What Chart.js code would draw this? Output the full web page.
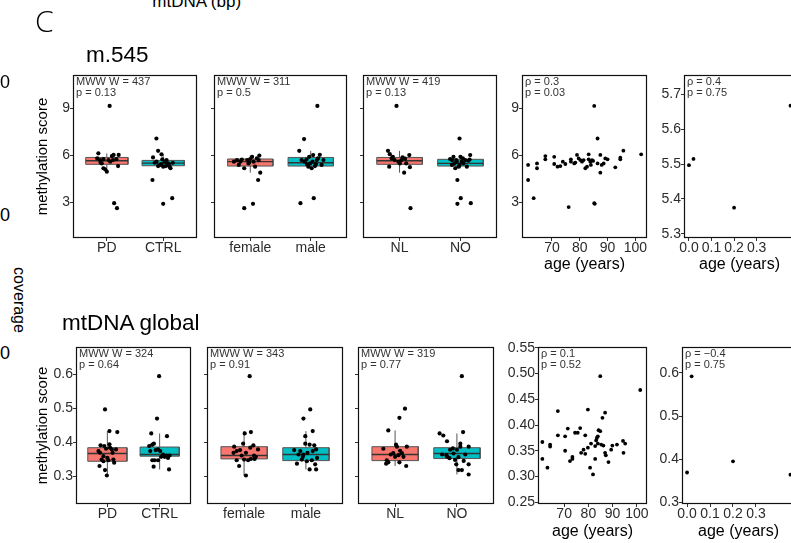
<!DOCTYPE html>
<html>
<head>
<meta charset="utf-8">
<script src="https://cdn.jsdelivr.net/npm/chart.js@4.4.1/dist/chart.umd.min.js"></script>
<style>
  html, body { margin: 0; padding: 0; background: #fff; }
  #fig { position: relative; width: 791px; height: 543px; overflow: hidden; font-family: 'Liberation Sans', Arial, sans-serif; }
  #fig canvas { position: absolute; }
  .t { position: absolute; white-space: nowrap; line-height: 1; color: #000; }
  .note { position: absolute; font-size: 11px; line-height: 10.7px; color: #333; white-space: nowrap; }
</style>
</head>
<body>
<div id="fig"></div>
<script>
// group names
const groupsDx = ['PD', 'CTRL'];
const groupsSex = ['female', 'male'];
const groupsNL = ['NL', 'NO'];

// tick values
const m545Ticks = [3, 6, 9];
const globalTicks = [0.3, 0.4, 0.5, 0.6];
const ageTicks = [70, 80, 90, 100];
const infantTicks = [0, 0.1, 0.2, 0.3];
const m545InfantTicks = [5.3, 5.4, 5.5, 5.6, 5.7];
const globalAgeTicks = [0.25, 0.3, 0.35, 0.4, 0.45, 0.5, 0.55];

// m.545 : scores per group (+ horizontal jitter), box stats [lo, q1, median, q3, hi]
const m545PD = [9.17, 6.14, 5.82, 5.71, 5.50, 5.19, 4.97, 5.12, 5.71, 5.97, 6.04, 5.77, 6.04, 5.33, 2.96, 2.64, 5.77, 5.61, 5.55, 5.71];
const m545PDJit = [0.05, -0.15, -0.17, -0.12, -0.09, -0.06, 0, -0.03, 0.03, 0.09, 0.12, 0.17, 0.21, 0.2, 0.13, 0.18, -0.06, 0.06, -0.11, 0.11];
const m545PDBox = [4.97, 5.44, 5.67, 5.88, 6.14];
const m545CTRL = [7.09, 6.30, 6.08, 5.88, 4.44, 2.92, 3.28, 5.54, 5.39, 5.61, 5.71, 5.50, 5.29, 5.19, 5.29, 5.33, 5.46, 5.33, 5.54, 5.61, 5.76, 5.39, 5.45];
const m545CTRLJit = [-0.12, -0.09, -0.03, -0.18, -0.19, 0, 0.16, -0.15, -0.06, 0.03, 0.06, 0.085, 0.115, 0.13, 0, -0.09, -0.03, 0.045, 0.17, -0.12, -0.015, 0.07, 0.1];
const m545CTRLBox = [5.19, 5.35, 5.52, 5.69, 6.08];
const m545Female = [2.64, 2.92, 4.44, 4.91, 5.71, 5.61, 5.19, 5.50, 5.92, 5.82, 5.71, 5.29, 5.75, 5.71, 5.61, 5.78, 5.61, 6.00, 5.40, 5.55];
const m545FemaleJit = [-0.1, 0.045, 0.13, 0.165, -0.22, -0.165, -0.1, -0.03, 0.03, 0.11, 0.14, 0.08, -0.14, -0.05, -0.27, 0, 0.055, 0.15, -0.19, -0.02];
const m545FemaleBox = [4.91, 5.33, 5.61, 5.78, 6.00];
const m545Male = [9.17, 7.05, 6.30, 2.96, 3.28, 5.75, 6.03, 6.05, 5.50, 5.71, 5.29, 5.19, 5.33, 5.82, 5.61, 5.71, 5.71, 5.40, 5.92, 5.61, 5.45, 5.43];
const m545MaleJit = [0.11, -0.11, -0.19, -0.17, 0.05, -0.07, 0.04, 0.15, -0.01, 0.1, -0.04, 0.015, 0.07, 0.12, -0.1, -0.15, 0.21, 0.18, -0.025, 0.03, 0.085, -0.06];
const m545MaleBox = [5.19, 5.33, 5.54, 5.88, 6.30];
const m545NL = [9.17, 2.64, 4.91, 6.30, 6.09, 5.82, 5.29, 5.71, 5.61, 5.71, 5.80, 6.03, 5.26, 5.50, 5.92, 5.88, 5.50];
const m545NLJit = [-0.05, 0.18, 0.075, -0.19, -0.16, -0.13, -0.17, -0.08, -0.02, 0.03, 0.09, 0.16, 0.17, 0.11, -0.11, 0.05, 0.005];
const m545NLBox = [4.91, 5.44, 5.67, 5.88, 6.30];
const m545NO = [7.09, 4.44, 3.28, 2.92, 2.96, 5.78, 5.92, 5.71, 5.40, 5.19, 5.29, 5.50, 5.71, 5.67, 6.03, 5.29, 5.61, 5.92, 5.50, 5.61, 5.82, 5.75, 5.71, 5.40];
const m545NOJit = [-0.015, -0.05, 0.005, -0.05, 0.17, -0.17, -0.115, -0.07, -0.14, -0.085, -0.03, 0.05, 0.08, 0.13, 0.16, 0.105, 0.02, 0, -0.1, -0.06, 0.04, 0.15, -0.14, -0.015];
const m545NOBox = [5.19, 5.33, 5.50, 5.76, 6.03];

// m.545 vs age
const m545Age = [61.4, 61.4, 63.4, 64.6, 64.6, 67.6, 67.6, 70.8, 70.8, 72.0, 73.0, 73.9, 74.8, 76.0, 76.8, 76.8, 78.0, 79.0, 79.6, 80.2, 80.8, 81.4, 82.0, 82.6, 83.2, 83.2, 83.8, 84.4, 85.2, 85.2, 85.4, 86.4, 86.4, 87.4, 87.4, 87.9, 88.6, 89.2, 90.0, 92.8, 94.6, 94.6, 95.7, 102.1, 78.4, 84.0, 84.8];
const m545AgeScore = [5.40, 4.44, 3.28, 5.50, 5.19, 5.97, 5.76, 5.92, 5.46, 5.29, 5.33, 5.61, 5.46, 2.71, 5.76, 5.61, 5.50, 6.04, 5.82, 5.71, 5.61, 5.71, 5.19, 5.29, 6.08, 5.76, 5.61, 5.71, 9.17, 2.96, 2.92, 7.09, 5.50, 4.91, 6.04, 5.40, 5.50, 5.82, 5.76, 5.25, 5.86, 5.76, 6.31, 6.08, 5.55, 5.40, 5.66];

// infants
const infantAge = [0, 0.02, 0.2, 0.45];
const m545Infant = [5.497, 5.515, 5.375, 5.668];
const globalInfant = [0.369, 0.592, 0.395, 0.364];

// mtDNA global
const globalPD = [0.497, 0.433, 0.430, 0.302, 0.330, 0.318, 0.349, 0.359, 0.391, 0.394, 0.379, 0.379, 0.340, 0.347, 0.374, 0.384, 0.381, 0.349, 0.344, 0.354, 0.369, 0.369, 0.389];
const globalPDJit = [-0.045, 0.04, 0.19, -0.01, -0.15, -0.045, -0.11, -0.075, -0.13, 0.04, 0.085, 0.165, 0.13, 0.02, -0.17, 0.05, -0.025, 0.115, -0.075, 0, -0.14, 0.1, -0.06];
const globalPDBox = [0.302, 0.344, 0.367, 0.384, 0.433];
const globalCTRL = [0.595, 0.470, 0.426, 0.418, 0.396, 0.393, 0.389, 0.379, 0.374, 0.364, 0.361, 0.361, 0.357, 0.347, 0.347, 0.347, 0.328, 0.320, 0.374, 0.377, 0.357, 0.354];
const globalCTRLJit = [-0.01, -0.05, -0.16, 0.14, -0.11, -0.14, -0.2, -0.03, 0.01, 0.065, 0.13, 0.19, 0.095, -0.095, -0.14, -0.03, -0.115, 0.18, -0.18, -0.075, 0.03, 0.16];
const globalCTRLBox = [0.320, 0.359, 0.364, 0.386, 0.426];
const globalFemale = [0.595, 0.426, 0.430, 0.396, 0.387, 0.377, 0.391, 0.379, 0.384, 0.374, 0.369, 0.369, 0.361, 0.357, 0.351, 0.349, 0.347, 0.347, 0.330, 0.302, 0.351, 0.361];
const globalFemaleJit = [0.09, 0.01, 0.11, -0.015, -0.16, -0.065, 0.15, 0.225, 0.1, -0.12, -0.17, 0.03, 0.16, 0.19, 0.11, 0, -0.12, 0.065, -0.08, 0.03, 0.17, -0.04];
const globalFemaleBox = [0.302, 0.351, 0.361, 0.387, 0.433];
const globalMale = [0.497, 0.470, 0.433, 0.418, 0.396, 0.393, 0.379, 0.377, 0.374, 0.364, 0.369, 0.374, 0.364, 0.357, 0.354, 0.337, 0.344, 0.347, 0.335, 0.320, 0.320, 0.349, 0.391];
const globalMaleJit = [0.07, -0.04, 0.11, -0.01, -0.01, 0.06, 0.165, -0.19, -0.09, -0.04, 0.025, 0.11, -0.12, -0.05, 0.18, -0.145, 0.015, 0.095, 0.15, 0.165, 0.06, -0.065, 0.135];
const globalMaleBox = [0.320, 0.346, 0.364, 0.384, 0.433];
const globalNL = [0.499, 0.472, 0.435, 0.381, 0.393, 0.387, 0.387, 0.375, 0.368, 0.364, 0.347, 0.337, 0.341, 0.362, 0.357, 0.341, 0.330, 0.357, 0.368];
const globalNLJit = [0.16, 0.07, -0.11, -0.19, 0.015, 0.03, 0.19, 0.08, -0.03, -0.07, -0.135, -0.145, -0.11, 0.055, 0.135, 0.07, 0.18, 0, 0.11];
const globalNLBox = [0.330, 0.346, 0.364, 0.387, 0.435];
const globalNO = [0.595, 0.426, 0.420, 0.430, 0.403, 0.396, 0.387, 0.387, 0.382, 0.378, 0.378, 0.364, 0.362, 0.367, 0.364, 0.353, 0.356, 0.345, 0.335, 0.335, 0.318, 0.318, 0.305, 0.358, 0.348];
const globalNOJit = [0.08, -0.28, -0.22, 0.1, -0.16, 0.055, 0.055, 0.19, -0.065, -0.11, 0, -0.24, -0.17, -0.055, 0.135, -0.12, 0.025, 0.11, -0.01, 0.19, 0.025, 0.08, 0.19, -0.16, -0.03];
const globalNOBox = [0.305, 0.352, 0.367, 0.384, 0.426];

// mtDNA global vs age
const globalAge = [61.0, 61.0, 63.1, 64.2, 64.2, 67.4, 67.4, 70.4, 70.4, 71.5, 72.4, 73.4, 73.4, 74.5, 75.6, 76.6, 77.0, 78.0, 78.7, 78.7, 79.8, 79.8, 80.7, 81.1, 81.9, 82.8, 82.8, 83.2, 83.5, 83.9, 84.2, 83.9, 84.9, 84.9, 85.3, 85.8, 86.2, 86.9, 86.9, 87.2, 88.3, 89.4, 89.9, 91.8, 94.3, 94.5, 95.2, 101.4];
const globalAgeScore = [0.367, 0.334, 0.317, 0.362, 0.358, 0.427, 0.380, 0.350, 0.378, 0.393, 0.330, 0.338, 0.334, 0.385, 0.385, 0.394, 0.346, 0.352, 0.380, 0.344, 0.430, 0.356, 0.317, 0.364, 0.304, 0.334, 0.359, 0.370, 0.375, 0.378, 0.390, 0.364, 0.388, 0.495, 0.362, 0.414, 0.360, 0.424, 0.346, 0.341, 0.328, 0.352, 0.360, 0.362, 0.369, 0.346, 0.364, 0.468];

const SALMON = '#F8766D';
const TEAL = '#00BFC4';
const NONE = 'rgba(0,0,0,0)';
const fig = document.getElementById('fig');
Chart.defaults.font.family = "'Liberation Sans', Arial, sans-serif";

// black border round the plotting area
const framePlugin = {
  id: 'frame',
  afterDraw(chart) {
    const { ctx, chartArea: a } = chart;
    ctx.save();
    ctx.strokeStyle = '#111';
    ctx.lineWidth = 1.2;
    ctx.strokeRect(a.left + 0.5, a.top + 0.5, a.right - a.left - 1, a.bottom - a.top - 1);
    ctx.restore();
  }
};

function makeAxis(o) {
  return {
    type: 'linear',
    min: o.min,
    max: o.max,
    offset: false,
    afterBuildTicks: s => { s.ticks = o.ticks.map(v => ({ value: v })); },
    afterFit: s => { if (o.horizontal) s.height = o.size; else s.width = o.size; },
    ticks: {
      display: o.show !== false,
      autoSkip: false, maxRotation: 0, minRotation: 0,
      padding: o.horizontal ? -1.5 : 0,
      color: '#2b2b2b',
      font: { size: 14 },
      callback: (v, i) => o.fmt(v, i)
    },
    grid: { display: true, offset: false, drawOnChartArea: false, drawTicks: true, tickLength: 3, color: '#333', lineWidth: 1 },
    border: { display: false },
    title: o.title
      ? { display: true, text: o.title, color: '#000', font: { size: o.horizontal ? 16 : 15 }, padding: 0 }
      : { display: false }
  };
}

function seg(points, extra) {
  return Object.assign({ type: 'line', data: points, pointRadius: 0, fill: false, borderColor: NONE, borderWidth: 1 }, extra);
}

// whisker, filled box, box outline and median for each group, then the jittered points
function boxDatasets(groups) {
  const W = 0.375;
  const ds = [];
  groups.forEach((g, i) => {
    const c = i + 1;
    const [lo, q1, med, q3, hi] = g.box;
    ds.push(seg([{ x: c, y: lo }, { x: c, y: hi }], { borderColor: '#555', order: 4 }));
    ds.push(seg([{ x: c - W, y: q3 }, { x: c + W, y: q3 }], { fill: '+1', backgroundColor: g.color, order: 3 }));
    ds.push(seg([{ x: c - W, y: q1 }, { x: c + W, y: q1 }], { order: 3 }));
    ds.push(seg([{ x: c - W, y: q1 }, { x: c - W, y: q3 }, { x: c + W, y: q3 }, { x: c + W, y: q1 }, { x: c - W, y: q1 }],
      { borderColor: '#555', order: 2 }));
    ds.push(seg([{ x: c - W, y: med }, { x: c + W, y: med }], { borderColor: '#333', borderWidth: 1.3, order: 1 }));
  });
  ds.push({
    type: 'scatter',
    data: groups.flatMap((g, i) => g.vals.map((v, k) => ({ x: i + 1 + g.jit[k], y: v }))),
    pointRadius: 2.1, pointBackgroundColor: '#000', pointBorderWidth: 0, order: 0
  });
  return ds;
}

function pointDatasets(xs, ys) {
  return [{
    type: 'scatter',
    data: xs.map((x, i) => ({ x: x, y: ys[i] })),
    pointRadius: 1.9, pointBackgroundColor: '#000', pointBorderWidth: 0
  }];
}

function panel(p) {
  const PT = 12, PR = 6;
  const w = p.r - p.l + p.yW + PR;
  const h = p.b - p.t + p.xH + PT;
  const c = document.createElement('canvas');
  c.width = w; c.height = h;
  c.style.left = (p.l - p.yW) + 'px';
  c.style.top = (p.t - PT) + 'px';
  c.style.width = w + 'px';
  c.style.height = h + 'px';
  fig.appendChild(c);
  new Chart(c, {
    type: 'scatter',
    data: { datasets: p.datasets },
    options: {
      responsive: false, animation: false, devicePixelRatio: 1,
      layout: { padding: { top: PT, right: PR, left: 0, bottom: 0 } },
      plugins: { legend: { display: false }, tooltip: { enabled: false } },
      scales: {
        x: makeAxis(Object.assign({}, p.x, { horizontal: true, size: p.xH })),
        y: makeAxis(Object.assign({}, p.y, { size: p.yW }))
      }
    },
    plugins: [framePlugin]
  });
  if (p.note) {
    const d = document.createElement('div');
    d.className = 'note';
    d.style.left = (p.l + 3) + 'px';
    d.style.top = (p.t + 1) + 'px';
    d.innerHTML = p.note.join('<br>');
    fig.appendChild(d);
  }
}

function text(str, left, top, size, extra) {
  const d = document.createElement('div');
  d.className = 't';
  d.textContent = str;
  d.style.left = left + 'px';
  d.style.top = top + 'px';
  d.style.fontSize = size + 'px';
  if (extra) Object.assign(d.style, extra);
  fig.appendChild(d);
}

const fmtInt = v => String(v);
const fmt1 = v => v.toFixed(1);
const fmt2 = v => v.toFixed(2);
const boxX = labels => ({ min: 0.4, max: 2.6, ticks: [1, 2], fmt: (v, i) => labels[i] });
const ageX = { min: 59.2, max: 104.2, ticks: ageTicks, fmt: fmtInt, title: 'age (years)' };
const infantX = { min: -0.022, max: 0.47, ticks: infantTicks, fmt: fmt1, title: 'age (years)' };

// ---- top row: m.545
const yTop = { min: 0.74, max: 11.14, ticks: m545Ticks, fmt: fmtInt };
const T = { t: 75, b: 238 };
panel({ ...T, l: 73, r: 197, yW: 39, xH: 22, x: boxX(groupsDx), y: { ...yTop, title: 'methylation score' },
  datasets: boxDatasets([{ vals: m545PD, jit: m545PDJit, box: m545PDBox, color: SALMON }, { vals: m545CTRL, jit: m545CTRLJit, box: m545CTRLBox, color: TEAL }]),
  note: ['MWW W = 437', 'p = 0.13'] });
panel({ ...T, l: 214, r: 347, yW: 6, xH: 22, x: boxX(groupsSex), y: { ...yTop, show: false },
  datasets: boxDatasets([{ vals: m545Female, jit: m545FemaleJit, box: m545FemaleBox, color: SALMON }, { vals: m545Male, jit: m545MaleJit, box: m545MaleBox, color: TEAL }]),
  note: ['MWW W = 311', 'p = 0.5'] });
panel({ ...T, l: 363, r: 497, yW: 6, xH: 22, x: boxX(groupsNL), y: { ...yTop, show: false },
  datasets: boxDatasets([{ vals: m545NL, jit: m545NLJit, box: m545NLBox, color: SALMON }, { vals: m545NO, jit: m545NOJit, box: m545NOBox, color: TEAL }]),
  note: ['MWW W = 419', 'p = 0.13'] });
panel({ ...T, l: 522, r: 647, yW: 20, xH: 36, x: ageX, y: yTop,
  datasets: pointDatasets(m545Age, m545AgeScore), note: ['\u03c1 = 0.3', 'p = 0.03'] });
panel({ ...T, l: 684, r: 795, yW: 28, xH: 36, x: infantX,
  y: { min: 5.288, max: 5.756, ticks: m545InfantTicks, fmt: fmt1 },
  datasets: pointDatasets(infantAge, m545Infant), note: ['\u03c1 = 0.4', 'p = 0.75'] });

// ---- bottom row: mtDNA global
const yBot = { min: 0.218, max: 0.681, ticks: globalTicks, fmt: fmt1 };
const B = { t: 347, b: 504 };
panel({ ...B, l: 76, r: 191, yW: 42, xH: 22, x: boxX(groupsDx), y: { ...yBot, title: 'methylation score' },
  datasets: boxDatasets([{ vals: globalPD, jit: globalPDJit, box: globalPDBox, color: SALMON }, { vals: globalCTRL, jit: globalCTRLJit, box: globalCTRLBox, color: TEAL }]),
  note: ['MWW W = 324', 'p = 0.64'] });
panel({ ...B, l: 207, r: 343, yW: 6, xH: 22, x: boxX(groupsSex), y: { ...yBot, show: false },
  datasets: boxDatasets([{ vals: globalFemale, jit: globalFemaleJit, box: globalFemaleBox, color: SALMON }, { vals: globalMale, jit: globalMaleJit, box: globalMaleBox, color: TEAL }]),
  note: ['MWW W = 343', 'p = 0.91'] });
panel({ ...B, l: 358, r: 494, yW: 6, xH: 22, x: boxX(groupsNL), y: { ...yBot, show: false },
  datasets: boxDatasets([{ vals: globalNL, jit: globalNLJit, box: globalNLBox, color: SALMON }, { vals: globalNO, jit: globalNOJit, box: globalNOBox, color: TEAL }]),
  note: ['MWW W = 319', 'p = 0.77'] });
panel({ ...B, l: 538, r: 647, yW: 34, xH: 37, x: ageX,
  y: { min: 0.2465, max: 0.5516, ticks: globalAgeTicks, fmt: fmt2 },
  datasets: pointDatasets(globalAge, globalAgeScore), note: ['\u03c1 = 0.1', 'p = 0.52'] });
panel({ ...B, l: 682, r: 795, yW: 26, xH: 37, x: infantX,
  y: { min: 0.296, max: 0.660, ticks: globalTicks, fmt: fmt1 },
  datasets: pointDatasets(infantAge, globalInfant), note: ['\u03c1 = \u22120.4', 'p = 0.75'] });

// ---- surrounding figure text
text('mtDNA (bp)', 196.7, -7, 17, { transform: 'translateX(-50%)' });
text('C', 35, 6, 30, { fontFamily: "'Open Sans', 'Liberation Sans', sans-serif", fontWeight: '300' });
text('m.545', 86, 44, 22.5);
text('mtDNA global', 62, 312, 22.5);
text('0', 0, 73, 18);
text('0', 0, 206, 18);
text('0', 0, 344, 18);
text('coverage', 19, 300, 16, { transform: 'translate(-50%, -50%) rotate(90deg)' });
</script>
</body>
</html>
